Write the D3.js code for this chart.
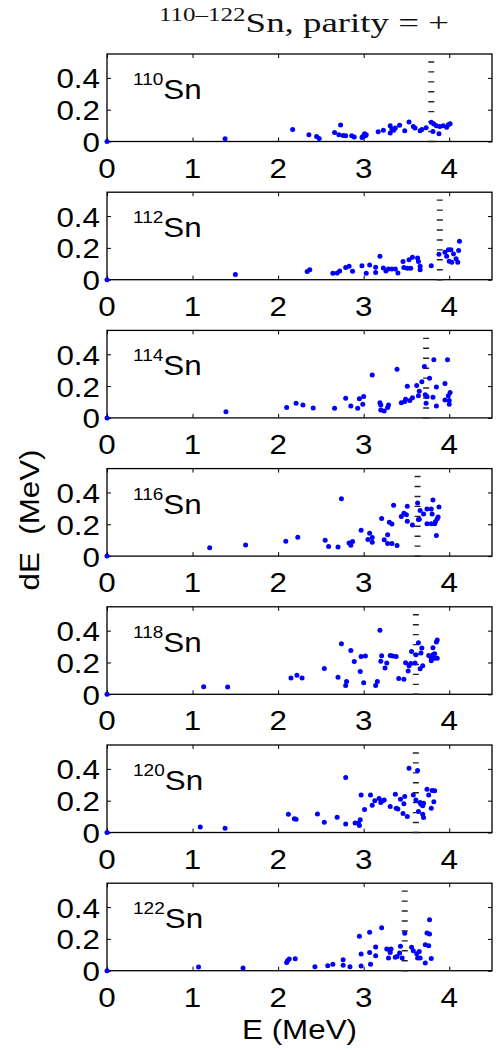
<!DOCTYPE html>
<html>
<head>
<meta charset="utf-8">
<script src="https://cdn.jsdelivr.net/npm/d3@7"></script>
<style>
  body { margin: 0; background: #fff; }
  svg { display: block; }
  .sans { font-family: "Liberation Sans", Arial, Helvetica, sans-serif; fill: #000; }
  .serif { font-family: "Liberation Serif", "Times New Roman", serif; fill: #111; }
</style>
</head>
<body>
<svg id="fig" width="501" height="1050"></svg>
<script>
// Level energy E (MeV) and spacing dE (MeV), positive-parity states
const sn110 = [[0,0],[1.38,0.017],[2.17,0.076],[2.36,0.042],[2.45,0.032],[2.48,0.019],[2.66,0.057],[2.73,0.104],[2.71,0.042],[2.76,0.038],[2.79,0.036],[2.86,0.036],[2.89,0.028],[2.98,0.025],[3.01,0.049],[3.02,0.036],[3.03,0.042],[2.99,0.032],[3.17,0.061],[3.23,0.070],[3.31,0.053],[3.31,0.099],[3.33,0.078],[3.35,0.070],[3.37,0.085],[3.42,0.102],[3.48,0.068],[3.53,0.123],[3.58,0.095],[3.60,0.085],[3.66,0.068],[3.68,0.076],[3.73,0.087],[3.79,0.121],[3.81,0.063],[3.82,0.110],[3.85,0.099],[3.89,0.095],[3.88,0.049],[3.93,0.099],[3.97,0.089],[3.99,0.106],[4.01,0.112]];
const sn112 = [[0,0],[1.50,0.032],[2.34,0.051],[2.37,0.063],[2.64,0.040],[2.69,0.042],[2.72,0.055],[2.79,0.076],[2.83,0.084],[2.87,0.053],[2.98,0.088],[3.03,0.040],[3.07,0.093],[3.14,0.078],[3.14,0.046],[3.19,0.147],[3.23,0.074],[3.26,0.055],[3.29,0.067],[3.33,0.067],[3.37,0.067],[3.40,0.042],[3.46,0.114],[3.47,0.076],[3.51,0.072],[3.53,0.126],[3.55,0.072],[3.57,0.141],[3.63,0.137],[3.64,0.114],[3.66,0.084],[3.66,0.063],[3.79,0.088],[3.88,0.160],[3.95,0.173],[3.97,0.147],[3.99,0.189],[4.00,0.116],[4.02,0.189],[4.03,0.109],[4.05,0.162],[4.08,0.131],[4.10,0.109],[4.11,0.183],[4.12,0.242]];
const sn114 = [[0,0],[1.39,0.039],[2.10,0.066],[2.21,0.092],[2.29,0.081],[2.41,0.062],[2.66,0.060],[2.79,0.124],[2.85,0.075],[2.93,0.060],[2.95,0.120],[2.99,0.086],[3.00,0.135],[3.10,0.270],[3.19,0.096],[3.20,0.081],[3.20,0.049],[3.24,0.043],[3.28,0.066],[3.29,0.081],[3.39,0.306],[3.44,0.096],[3.48,0.103],[3.49,0.118],[3.51,0.199],[3.54,0.109],[3.57,0.126],[3.62,0.203],[3.64,0.139],[3.65,0.167],[3.68,0.227],[3.71,0.323],[3.72,0.145],[3.73,0.092],[3.74,0.135],[3.77,0.250],[3.82,0.366],[3.81,0.130],[3.85,0.195],[3.85,0.075],[3.95,0.216],[3.95,0.113],[3.98,0.366],[3.99,0.139],[4.00,0.109],[4.01,0.160],[4.00,0.086]];
const sn116 = [[0,0],[1.20,0.053],[1.62,0.070],[2.09,0.094],[2.23,0.119],[2.55,0.100],[2.59,0.060],[2.70,0.057],[2.74,0.360],[2.83,0.083],[2.85,0.068],[2.87,0.091],[2.97,0.162],[3.05,0.104],[3.07,0.143],[3.10,0.117],[3.10,0.087],[3.21,0.236],[3.24,0.102],[3.28,0.134],[3.28,0.079],[3.30,0.213],[3.33,0.202],[3.33,0.079],[3.35,0.319],[3.39,0.066],[3.44,0.249],[3.47,0.270],[3.50,0.260],[3.51,0.219],[3.51,0.313],[3.57,0.196],[3.63,0.334],[3.64,0.230],[3.65,0.232],[3.66,0.287],[3.70,0.264],[3.74,0.296],[3.74,0.204],[3.79,0.204],[3.79,0.296],[3.81,0.353],[3.80,0.264],[3.83,0.204],[3.84,0.217],[3.85,0.130],[3.86,0.234],[3.87,0.245],[3.88,0.309]];
const sn118 = [[0,0],[1.13,0.048],[1.41,0.046],[2.15,0.103],[2.22,0.120],[2.28,0.103],[2.54,0.162],[2.70,0.107],[2.74,0.318],[2.80,0.080],[2.79,0.055],[2.85,0.276],[2.89,0.206],[2.96,0.143],[2.97,0.238],[3.00,0.072],[3.02,0.240],[3.14,0.055],[3.16,0.080],[3.19,0.402],[3.20,0.208],[3.21,0.242],[3.25,0.166],[3.27,0.196],[3.31,0.244],[3.34,0.240],[3.38,0.238],[3.41,0.099],[3.47,0.095],[3.49,0.198],[3.52,0.147],[3.53,0.179],[3.55,0.194],[3.56,0.269],[3.60,0.196],[3.61,0.248],[3.64,0.324],[3.66,0.160],[3.67,0.259],[3.68,0.291],[3.69,0.179],[3.76,0.244],[3.79,0.211],[3.79,0.227],[3.81,0.248],[3.81,0.293],[3.83,0.255],[3.83,0.227],[3.85,0.328],[3.86,0.227],[3.86,0.341]];
const sn120 = [[0,0],[1.09,0.034],[1.38,0.027],[2.12,0.115],[2.19,0.086],[2.21,0.084],[2.46,0.117],[2.54,0.065],[2.69,0.096],[2.79,0.346],[2.79,0.054],[2.90,0.059],[2.94,0.059],[2.95,0.044],[2.96,0.080],[2.97,0.235],[3.01,0.144],[3.08,0.235],[3.10,0.172],[3.13,0.199],[3.18,0.214],[3.20,0.188],[3.22,0.199],[3.24,0.205],[3.31,0.163],[3.37,0.241],[3.38,0.153],[3.40,0.147],[3.43,0.209],[3.46,0.119],[3.47,0.180],[3.48,0.226],[3.51,0.101],[3.53,0.404],[3.58,0.235],[3.61,0.205],[3.63,0.390],[3.64,0.132],[3.66,0.188],[3.67,0.178],[3.69,0.168],[3.69,0.115],[3.70,0.184],[3.70,0.094],[3.74,0.272],[3.76,0.235],[3.79,0.153],[3.80,0.264],[3.82,0.193],[3.83,0.262]];
const sn122 = [[0,0],[1.07,0.023],[1.59,0.017],[2.10,0.052],[2.11,0.063],[2.13,0.073],[2.20,0.075],[2.43,0.025],[2.58,0.031],[2.64,0.040],[2.76,0.069],[2.76,0.034],[2.84,0.025],[2.95,0.216],[2.97,0.105],[2.97,0.029],[3.07,0.241],[3.07,0.115],[3.08,0.040],[3.14,0.149],[3.14,0.094],[3.21,0.270],[3.27,0.136],[3.29,0.080],[3.30,0.132],[3.31,0.115],[3.32,0.136],[3.37,0.084],[3.39,0.090],[3.42,0.111],[3.43,0.153],[3.45,0.080],[3.48,0.235],[3.56,0.147],[3.58,0.126],[3.62,0.107],[3.63,0.080],[3.65,0.121],[3.66,0.080],[3.72,0.163],[3.72,0.048],[3.74,0.237],[3.76,0.157],[3.77,0.230],[3.77,0.320],[3.79,0.077]];

const isotopes = ["110", "112", "114", "116", "118", "120", "122"];
const levels = [sn110, sn112, sn114, sn116, sn118, sn120, sn122];
// Energy cut-off of each spectrum (dashed marker)
const cutoffs = [3.79, 3.89, 3.73, 3.63, 3.61, 3.61, 3.48];
const cutoffTop = 0.5;
const cutoffStep = 0.0625;

const xTicks = [0, 1, 2, 3, 4];
const yTicks = [0, 0.2, 0.4];
const xDomain = [0, 4.5];
const yDomain = [0, 0.55];

const svg = d3.select("#fig");
const left = 107, right = 492, firstTop = 54, step = 138.2, h = 87.5;
const stretch = 1.12;
const tickLen = 4;

const x = d3.scaleLinear().domain(xDomain).range([left, right]);

levels.forEach((pts, i) => {
  const top = firstTop + i * step;
  const g = svg.append("g").attr("transform", `translate(0,${top})`);
  const y = d3.scaleLinear().domain(yDomain).range([h, 0]);

  // inward ticks on all four sides
  const axes = [
    { ax: d3.axisBottom(x).tickValues(xTicks).tickSizeInner(-tickLen), tr: `translate(0,${h})` },
    { ax: d3.axisTop(x).tickValues(xTicks).tickSizeInner(-tickLen), tr: `translate(0,0)` },
    { ax: d3.axisLeft(y).tickValues(yTicks).tickSizeInner(-tickLen), tr: `translate(${left},0)` },
    { ax: d3.axisRight(y).tickValues(yTicks).tickSizeInner(-tickLen), tr: `translate(${right},0)` }
  ];
  axes.forEach(a => {
    const ag = g.append("g").attr("transform", a.tr)
      .call(a.ax.tickSizeOuter(0).tickFormat(""));
    ag.select(".domain").remove();
    ag.selectAll(".tick line").attr("stroke", "#000").attr("stroke-width", 1);
  });

  // box
  g.append("rect")
    .attr("x", left).attr("y", 0)
    .attr("width", right - left).attr("height", h)
    .attr("fill", "none").attr("stroke", "#000").attr("stroke-width", 1.3);

  // x tick labels
  g.selectAll("text.xt").data(xTicks).join("text")
    .attr("class", "xt sans")
    .attr("transform", d => `translate(${x(d)},${h + 36}) scale(${stretch},1)`)
    .attr("text-anchor", "middle")
    .attr("font-size", 28)
    .text(d => d3.format("d")(d));

  // y tick labels
  g.selectAll("text.yt").data(yTicks).join("text")
    .attr("class", "yt sans")
    .attr("transform", d => `translate(${left - 7},${y(d) + 10.5}) scale(${stretch},1)`)
    .attr("text-anchor", "end")
    .attr("font-size", 28)
    .text(d => d === 0 ? "0" : d3.format(".1f")(d));

  // dashed cut-off marker
  const dashPeriod = y(0) - y(cutoffStep);
  g.append("line")
    .attr("x1", x(cutoffs[i])).attr("x2", x(cutoffs[i]))
    .attr("y1", y(cutoffTop) - 0.7).attr("y2", y(0) + 1)
    .attr("stroke", "#222")
    .attr("stroke-width", 6)
    .attr("stroke-dasharray", `1.4 ${dashPeriod - 1.4}`);

  // isotope label
  const lab = g.append("text")
    .attr("class", "sans")
    .attr("transform", `translate(133,45) scale(${stretch},1)`);
  lab.append("tspan").attr("font-size", 17).attr("dy", -14).text(isotopes[i]);
  lab.append("tspan").attr("font-size", 28).attr("dy", 14).text("Sn");

  // levels
  g.selectAll("circle").data(pts).join("circle")
    .attr("cx", d => x(d[0]))
    .attr("cy", d => y(d[1]))
    .attr("r", 2.5)
    .attr("fill", "#0000ff");
});

// title
const title = svg.append("text")
  .attr("class", "serif")
  .attr("transform", "translate(159,32)")
  .attr("textLength", 290)
  .attr("lengthAdjust", "spacingAndGlyphs")
  .style("white-space", "pre");
title.append("tspan").attr("font-size", 19).attr("dy", -11).text("110–122");
title.append("tspan").attr("font-size", 28).attr("dy", 11).text("Sn, parity = +");

// axis labels
svg.append("text")
  .attr("class", "sans")
  .attr("transform", `translate(${(left + right) / 2},1039) scale(${stretch},1)`)
  .attr("text-anchor", "middle")
  .attr("font-size", 28)
  .text("E (MeV)");

svg.append("text")
  .attr("class", "sans")
  .attr("transform", "translate(39,520) rotate(-90) scale(1.12,1)")
  .attr("text-anchor", "middle")
  .attr("font-size", 28)
  .style("white-space", "pre")
  .text("dE  (MeV)");
</script>
</body>
</html>
